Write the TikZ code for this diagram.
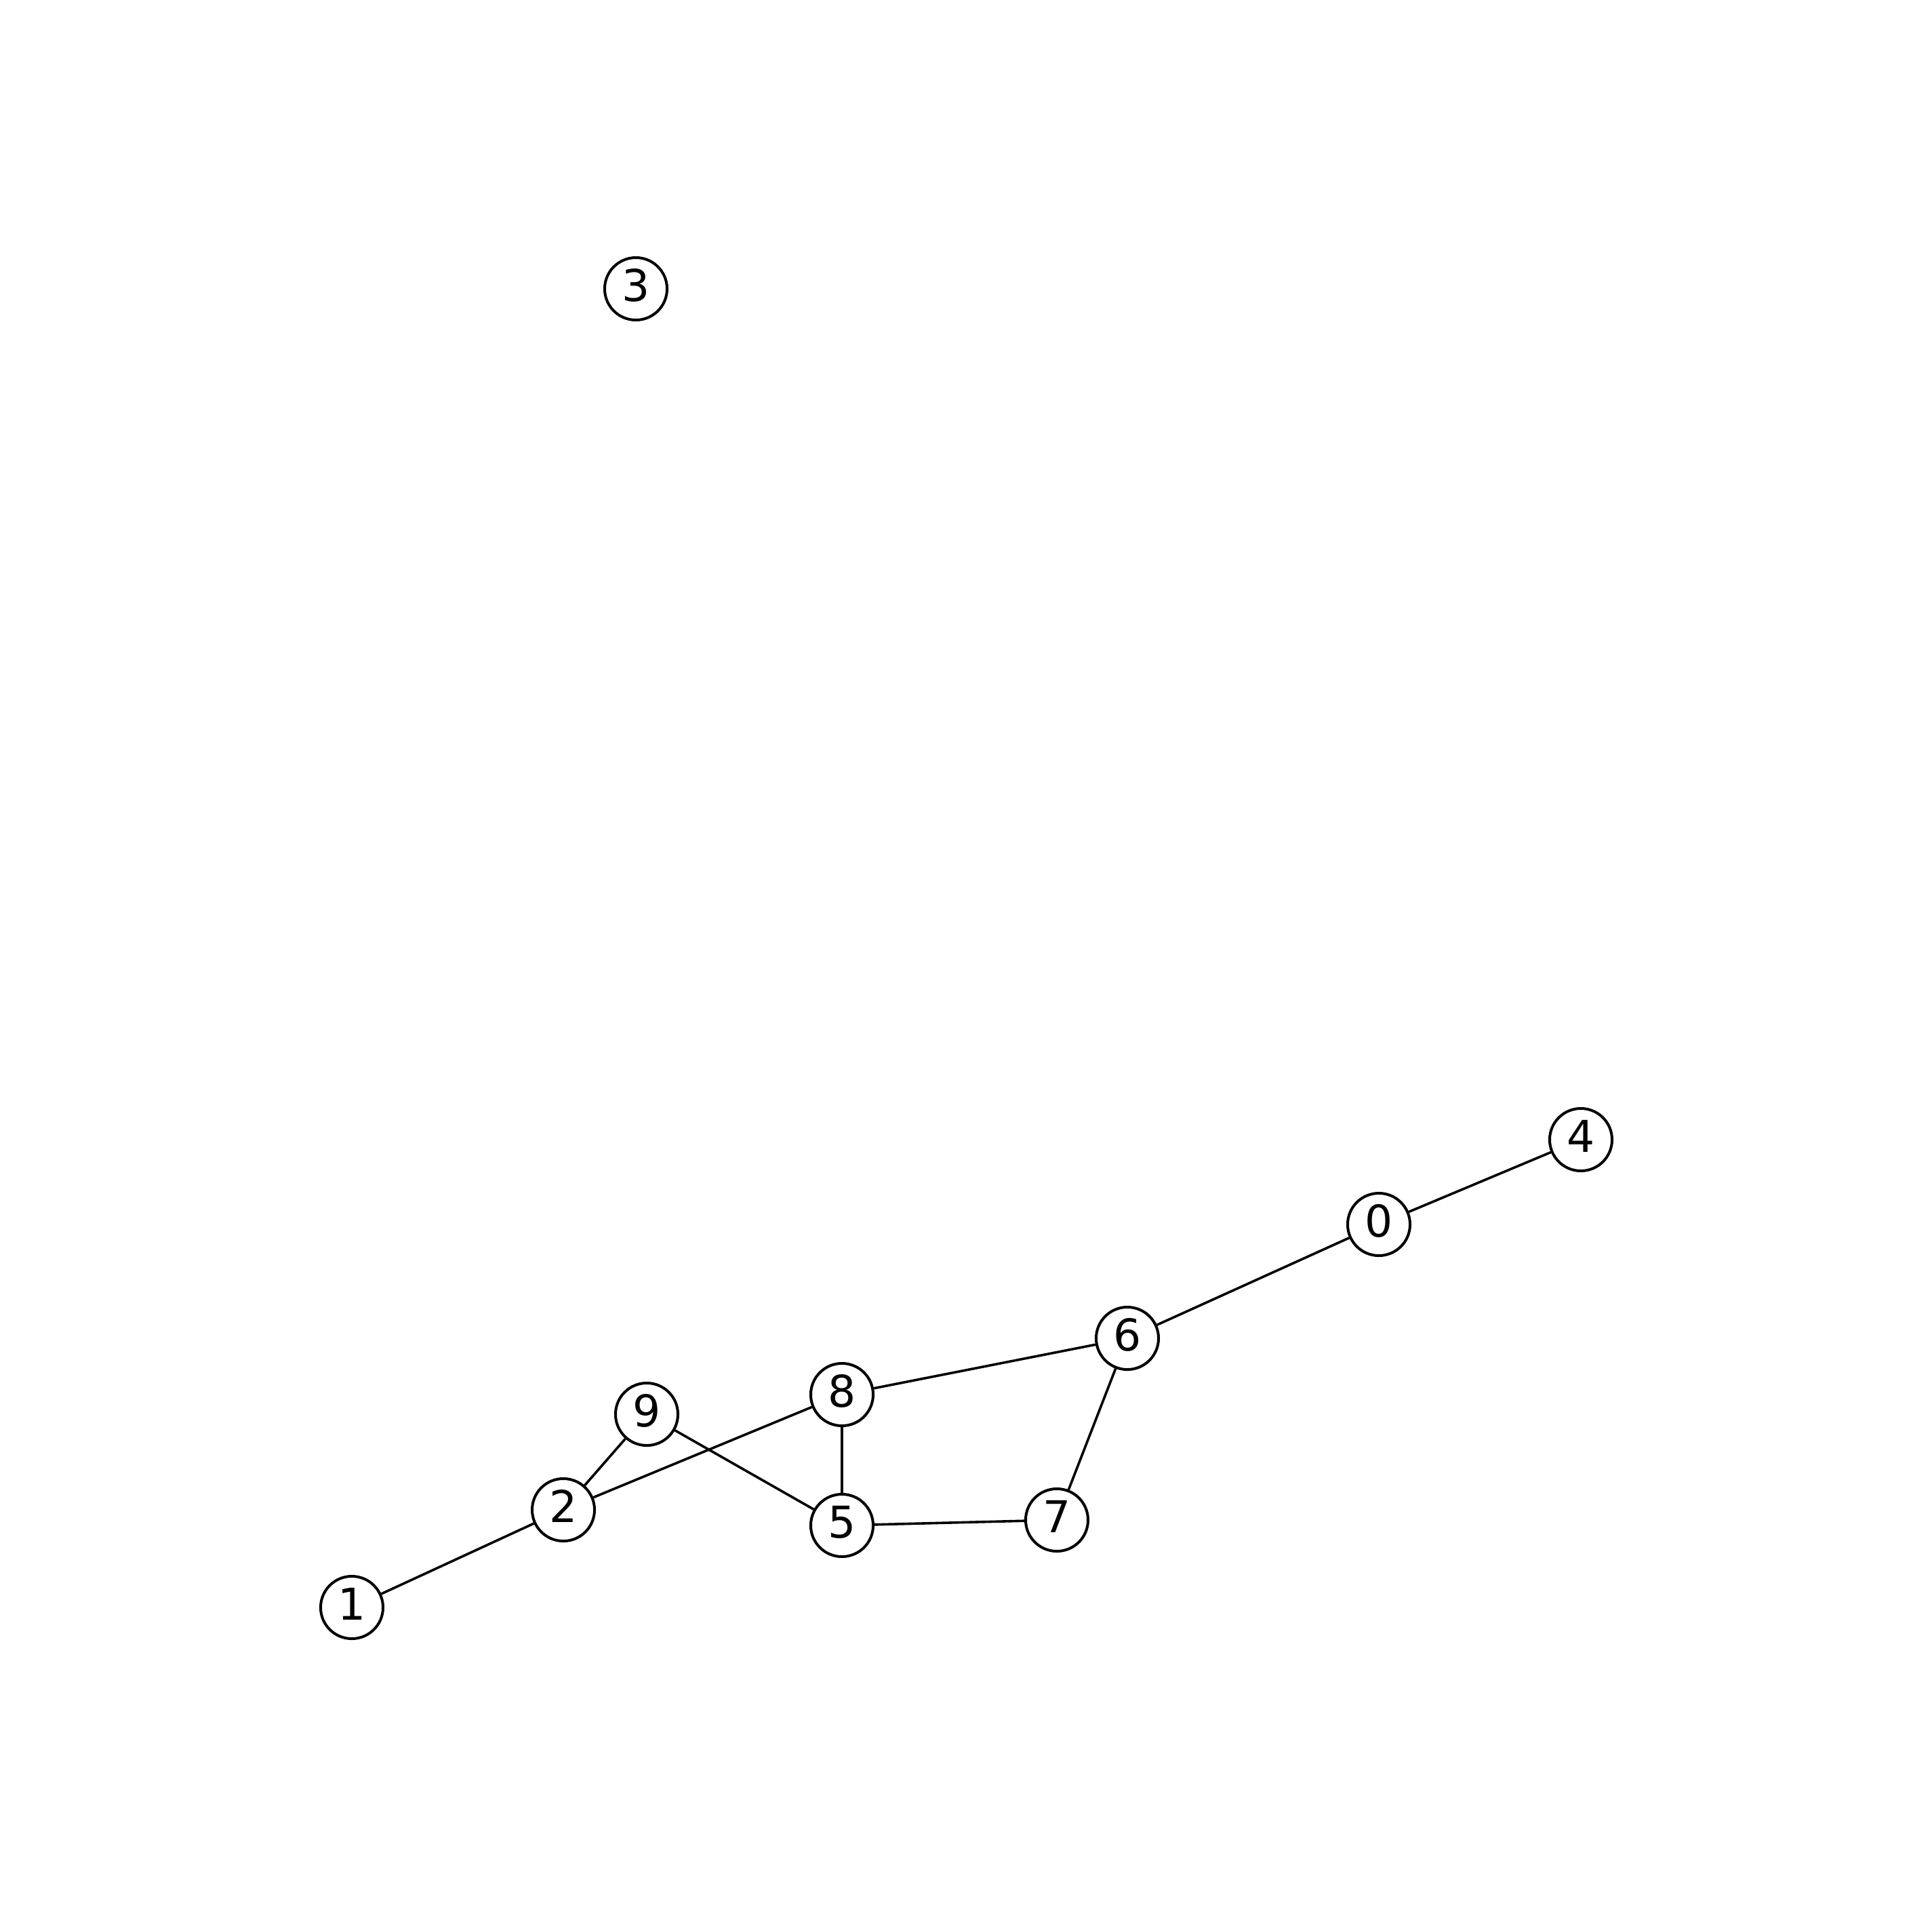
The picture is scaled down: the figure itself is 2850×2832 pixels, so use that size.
\documentclass[tikz,border=0pt]{standalone}
\usepackage{fontspec}
\setmainfont{DejaVu Sans}
\begin{document}
\begin{tikzpicture}[x=0.01cm,y=-0.01cm,
  vnode/.style={circle,draw=black,fill=white,line width=0.04cm,minimum size=0.92cm,inner sep=0pt,
    font=\fontsize{18.4}{22}\selectfont,text height=0.47cm,text depth=0.1cm},
  edge/.style={draw=black,line width=0.036cm}]
\useasboundingbox[fill=white] (0,0) rectangle (2850,2832);
\node[vnode] (n0) at (2034,1806) {0};
\node[vnode] (n1) at (519,2371) {1};
\node[vnode] (n2) at (831,2227) {2};
\node[vnode] (n3) at (938,426) {3};
\node[vnode] (n4) at (2332,1681) {4};
\node[vnode] (n5) at (1242,2250) {5};
\node[vnode] (n6) at (1663,1974) {6};
\node[vnode] (n7) at (1559,2242) {7};
\node[vnode] (n8) at (1242,2057) {8};
\node[vnode] (n9) at (954,2086) {9};
\draw[edge] (n0) -- (n4);
\draw[edge] (n0) -- (n6);
\draw[edge] (n6) -- (n8);
\draw[edge] (n6) -- (n7);
\draw[edge] (n7) -- (n5);
\draw[edge] (n5) -- (n8);
\draw[edge] (n5) -- (n9);
\draw[edge] (n9) -- (n2);
\draw[edge] (n2) -- (n8);
\draw[edge] (n2) -- (n1);
\end{tikzpicture}
\end{document}
